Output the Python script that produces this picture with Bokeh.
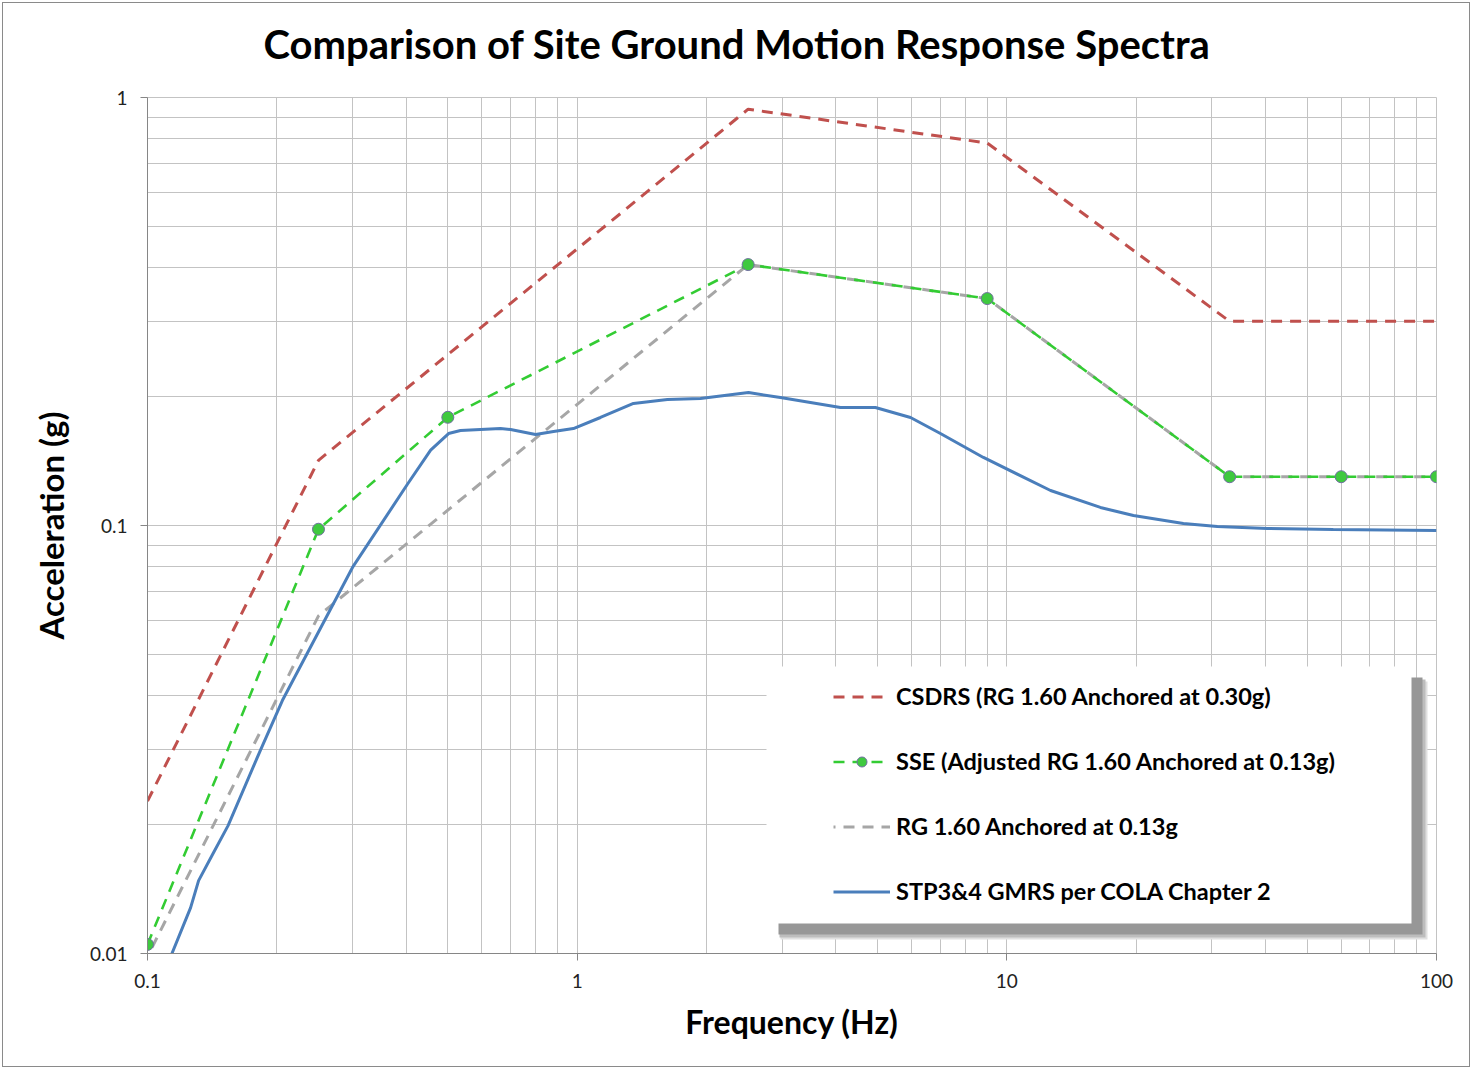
from bokeh.plotting import figure
from bokeh.models import (FixedTicker, CustomJSTickFormatter, Legend, LegendItem,
                          BoxAnnotation, Range1d, Title)
from bokeh.embed import file_html
from bokeh.resources import INLINE

chart_title = "Comparison of Site Ground Motion Response Spectra"
x_label = "Frequency (Hz)"
y_label = "Acceleration (g)"

x_major = [0.1, 1, 10, 100]
x_minor = [0.2, 0.3, 0.4, 0.5, 0.6, 0.7, 0.8, 0.9,
           2, 3, 4, 5, 6, 7, 8, 9,
           20, 30, 40, 50, 60, 70, 80, 90]
y_major = [0.01, 0.1, 1]
y_minor = [0.02, 0.03, 0.04, 0.05, 0.06, 0.07, 0.08, 0.09,
           0.2, 0.3, 0.4, 0.5, 0.6, 0.7, 0.8, 0.9]

# CSDRS (RG 1.60 anchored at 0.30g)
csdrs_f = [0.1, 0.25, 2.5, 9, 33, 100]
csdrs_a = [0.0227, 0.142, 0.939, 0.783, 0.30, 0.30]

# SSE (adjusted RG 1.60 anchored at 0.13g)
sse_f = [0.1, 0.25, 0.5, 2.5, 9, 33, 60, 100]
sse_a = [0.0105, 0.098, 0.179, 0.407, 0.339, 0.13, 0.13, 0.13]

# RG 1.60 anchored at 0.13g
rg_f = [0.1, 0.25, 2.5, 9, 33, 100]
rg_a = [0.00984, 0.0615, 0.407, 0.339, 0.13, 0.13]

# STP3&4 GMRS per COLA Chapter 2
gmrs_f = [0.114, 0.126, 0.1315, 0.142, 0.154, 0.183, 0.206, 0.300, 0.403, 0.456,
          0.502, 0.535, 0.663, 0.70, 0.80, 0.881, 0.98, 1.133, 1.352, 1.622,
          1.936, 2.505, 2.972, 4.10, 4.945, 5.968, 7.005, 8.82, 12.64, 16.51,
          19.71, 25.76, 30.9, 40.4, 57.5, 100]
gmrs_a = [0.0100, 0.0128, 0.0148, 0.0171, 0.0199, 0.0298, 0.0390, 0.0798, 0.125, 0.150,
          0.164, 0.1667, 0.1685, 0.1676, 0.1632, 0.1658, 0.1685, 0.1788, 0.1928, 0.197,
          0.198, 0.2045, 0.199, 0.1887, 0.1887, 0.1788, 0.164, 0.1442, 0.1207, 0.1102,
          0.1055, 0.1011, 0.0995, 0.0984, 0.0979, 0.0973]

labels = ["CSDRS (RG 1.60 Anchored at 0.30g)",
          "SSE (Adjusted RG 1.60 Anchored at 0.13g)",
          "RG 1.60 Anchored at 0.13g",
          "STP3&4 GMRS per COLA Chapter 2"]

FONT = "Lato"
GRID = "#c3c3c3"
AXIS = "#868686"

p = figure(width=1468, height=1065, x_axis_type="log", y_axis_type="log",
           x_range=Range1d(0.1, 100), y_range=Range1d(0.01, 1),
           output_backend="svg", toolbar_location=None, title=None,
           min_border_left=144, min_border_right=35,
           min_border_top=94, min_border_bottom=115,
           background_fill_color="white", border_fill_color="white")
p.styles = {"border": "1px solid #8a8a8a", "margin-left": "2px", "margin-top": "2px"}
p.outline_line_color = GRID

# spacer (nearest the frame), then the chart title above it
p.add_layout(Title(text=" ", text_font_size="2px", standoff=18), "above")
p.add_layout(Title(text=chart_title, align="left", offset=116, standoff=16,
                   text_font=FONT, text_font_style="bold", text_font_size="40px",
                   text_color="black"), "above")

fmt = CustomJSTickFormatter(code="return tick.toString()")
for ax, major, minor, lab in ((p.xaxis[0], x_major, x_minor, x_label),
                              (p.yaxis[0], y_major, y_minor, y_label)):
    ax.ticker = FixedTicker(ticks=major, minor_ticks=minor)
    ax.formatter = fmt
    ax.axis_line_color = AXIS
    ax.major_tick_line_color = AXIS
    ax.major_tick_in = 0
    ax.major_tick_out = 7
    ax.minor_tick_in = 0
    ax.minor_tick_out = 0
    ax.major_label_text_font = FONT
    ax.major_label_text_font_size = "19px"
    ax.major_label_text_color = "#222222"
    ax.axis_label = lab
    ax.axis_label_text_font = FONT
    ax.axis_label_text_font_style = "bold"
    ax.axis_label_text_color = "black"
p.xaxis[0].axis_label_text_font_size = "32px"
p.yaxis[0].axis_label_text_font_size = "33px"
p.xaxis[0].major_label_standoff = 13
p.xaxis[0].axis_label_standoff = 11
p.yaxis[0].major_label_standoff = 13
p.yaxis[0].axis_label_standoff = 16

for g in (p.xgrid[0], p.ygrid[0]):
    g.grid_line_color = GRID
    g.grid_line_width = 1
    g.minor_grid_line_color = GRID
    g.minor_grid_line_width = 1

r_red = p.line(csdrs_f, csdrs_a, line_color="#c0504d", line_width=3, line_dash="11 8")
r_gray = p.line(rg_f, rg_a, line_color="#a6a6a6", line_width=3, line_dash="11 8",
                line_dash_offset=9)
r_green = p.line(sse_f, sse_a, line_color="#33cc33", line_width=2.6, line_dash="11 8")
r_green_pts = p.scatter(sse_f, sse_a, size=12, fill_color="#3fc93f",
                        line_color="#7070a0", line_width=1)
r_blue = p.line(gmrs_f, gmrs_a, line_color="#4a7ebb", line_width=3)

# legend box with soft shadow (frame-relative screen units)
def sbox(l, r, b, t, color):
    return BoxAnnotation(left=l, right=r, bottom=b, top=t,
                         left_units="screen", right_units="screen",
                         top_units="screen", bottom_units="screen",
                         fill_color=color, fill_alpha=1.0, line_color=None)

for box in (sbox(633, 1280, 14, 272, "#e0e0e0"),
            sbox(632, 1278, 16, 274, "#bdbdbd"),
            sbox(631, 1275, 19, 276, "#979797"),
            sbox(619, 1264, 30, 287, "white")):
    p.add_layout(box)

legend = Legend(items=[LegendItem(label=labels[0], renderers=[r_red]),
                       LegendItem(label=labels[1], renderers=[r_green, r_green_pts]),
                       LegendItem(label=labels[2], renderers=[r_gray]),
                       LegendItem(label=labels[3], renderers=[r_blue])],
                location=(686, 42), padding=11, spacing=25, margin=0,
                glyph_width=57, glyph_height=25, label_height=40, label_standoff=6,
                label_text_font=FONT, label_text_font_style="bold",
                label_text_font_size="23.5px", label_text_color="black",
                background_fill_alpha=0, border_line_color=None)
p.add_layout(legend, "center")

open("out.html", "w").write(file_html(p, INLINE))
